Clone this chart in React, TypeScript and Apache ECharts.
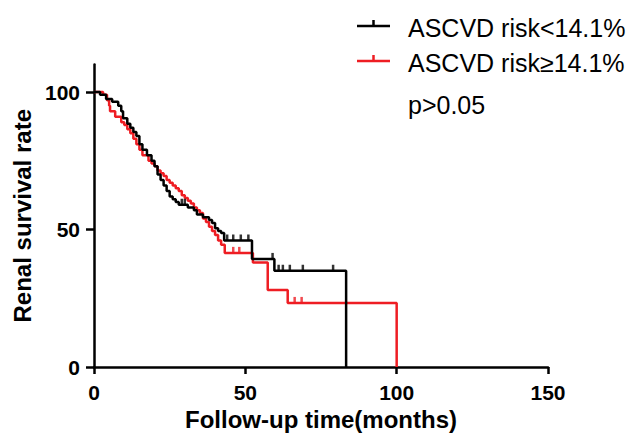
import React, { useEffect, useRef } from 'react';
import * as echarts from 'echarts';

const seriesNames = ['ASCVD risk<14.1%', 'ASCVD risk≥14.1%'];
const seriesColors = ['#000000', '#ee1d23'];

// Kaplan–Meier steps, group ASCVD risk<14.1%
const lowTimes = [0, 2, 4, 6, 8, 9, 9.6, 11, 12, 13, 14, 15, 16, 17.5, 19, 20, 21, 22, 23, 24, 25, 26, 27, 28, 31, 33, 34, 36, 38, 39, 40, 41, 42, 43, 52.2, 59.6, 83.3];
const lowSurv = [100, 99, 97.5, 96.5, 95, 93, 90.5, 88.5, 87, 85.5, 84, 81, 79, 77, 75, 73, 70, 68, 66, 64, 62, 61, 60, 59, 58, 57, 55.5, 54.5, 53.5, 52.4, 50.5, 49.5, 48.7, 46, 39.3, 35, 0];
const lowCensorTimes = [29, 30, 44, 46, 48.5, 51, 59, 61, 62.4, 64.7, 69, 79];
const lowCensorSurv = [59, 59, 46, 46, 46, 46, 39.3, 35, 35, 35, 35, 35];

// Kaplan–Meier steps, group ASCVD risk≥14.1%
const highTimes = [0, 3, 4.3, 5, 5.3, 7, 9, 10, 11, 12, 13, 14, 15, 16, 18, 19, 20, 21, 22, 23, 24, 25, 26, 27, 28, 29, 30, 31, 32, 33, 34, 35, 36, 37, 38, 39, 40, 41, 42, 43.2, 52.5, 57.4, 64, 100];
const highSurv = [100, 99, 97, 95, 93, 91, 89, 88, 86.5, 85, 83, 81, 79, 77, 75, 74, 73, 71.5, 70.5, 69.5, 68, 67, 66, 65, 64, 62.5, 61.5, 60.5, 59.5, 58, 57, 56, 54, 52.7, 51, 49.5, 48, 46, 44.5, 41.5, 38, 28, 23.3, 0];
const highCensorTimes = [46, 48, 66.3, 68.6];
const highCensorSurv = [41.5, 41.5, 23.3, 23.3];

const xTicks = [0, 50, 100, 150];
const yTicks = [0, 50, 100];
const xTitle = 'Follow-up time(months)';
const yTitle = 'Renal survival rate';
const pValueText = 'p>0.05';

const FONT = '"Liberation Sans", Arial, Helvetica, sans-serif';

export default function App() {
  const ref = useRef<HTMLDivElement>(null);
  useEffect(() => {
    if (!ref.current) return;
    const chart = echarts.init(ref.current, undefined, { renderer: 'svg' });
    const toPairs = (t: number[], s: number[]) => t.map((v, i) => [v, s[i]]);
    const curves = [toPairs(lowTimes, lowSurv), toPairs(highTimes, highSurv)];
    const censors = [toPairs(lowCensorTimes, lowCensorSurv), toPairs(highCensorTimes, highCensorSurv)];
    const order = [1, 0]; // draw red first, black on top
    const series: any[] = [];
    order.forEach((i) => {
      series.push({
        name: seriesNames[i],
        type: 'line',
        step: 'end',
        data: curves[i],
        symbol: 'none',
        clip: false,
        lineStyle: { color: seriesColors[i], width: 2.5 },
        itemStyle: { color: seriesColors[i] },
        z: 3 + (1 - i),
      });
      series.push({
        name: seriesNames[i],
        type: 'scatter',
        data: censors[i],
        symbol: 'rect',
        symbolSize: [2.5, 6],
        symbolOffset: [0, -3],
        itemStyle: { color: seriesColors[i] },
        z: 3 + (1 - i),
      });
    });

    const legendY = [26, 61];
    const graphics: any[] = [];
    seriesNames.forEach((name, i) => {
      graphics.push({
        type: 'line',
        shape: { x1: 357, y1: legendY[i], x2: 390, y2: legendY[i] },
        style: { stroke: seriesColors[i], lineWidth: 2.5 },
      });
      graphics.push({
        type: 'line',
        shape: { x1: 373.5, y1: legendY[i] - 6, x2: 373.5, y2: legendY[i] },
        style: { stroke: seriesColors[i], lineWidth: 2.5 },
      });
      graphics.push({
        type: 'text',
        x: 408,
        y: legendY[i] + 1.5,
        style: {
          text: name,
          fill: '#000',
          font: `25px ${FONT}`,
          verticalAlign: 'middle',
          align: 'left',
        },
      });
    });
    graphics.push({
      type: 'text',
      x: 408,
      y: 105,
      style: {
        text: pValueText,
        fill: '#000',
        font: `25px ${FONT}`,
        verticalAlign: 'middle',
        align: 'left',
      },
    });

    chart.setOption({
      animation: false,
      backgroundColor: '#ffffff',
      grid: { left: 94, right: 81, top: 64.5, bottom: 73, containLabel: false },
      xAxis: {
        type: 'value',
        min: xTicks[0],
        max: xTicks[xTicks.length - 1],
        interval: 50,
        axisLine: { onZero: false, lineStyle: { color: '#000', width: 2.5 } },
        axisTick: { length: 7, lineStyle: { color: '#000', width: 2.5 } },
        axisLabel: { margin: 15, fontSize: 21, fontWeight: 'bold', color: '#000', fontFamily: FONT },
        splitLine: { show: false },
        name: xTitle,
        nameLocation: 'middle',
        nameGap: 38,
        nameTextStyle: { fontSize: 24, fontWeight: 'bold', color: '#000', fontFamily: FONT },
      },
      yAxis: {
        type: 'value',
        min: 0,
        max: 110,
        interval: 50,
        axisLine: { onZero: false, lineStyle: { color: '#000', width: 2.5 } },
        axisTick: { length: 8, customValues: yTicks, lineStyle: { color: '#000', width: 2.5 } },
        axisLabel: {
          margin: 14,
          customValues: yTicks,
          fontSize: 21,
          fontWeight: 'bold',
          color: '#000',
          fontFamily: FONT,
        },
        splitLine: { show: false },
        name: yTitle,
        nameLocation: 'middle',
        nameGap: 60,
        nameRotate: 90,
        nameTextStyle: { fontSize: 24, fontWeight: 'bold', color: '#000', fontFamily: FONT },
      },
      graphic: graphics,
      series,
    });
    return () => chart.dispose();
  }, []);
  return (
    <div
      ref={ref}
      style={{ position: 'fixed', left: 0, top: 0, width: 629, height: 440, background: '#fff' }}
    />
  );
}
